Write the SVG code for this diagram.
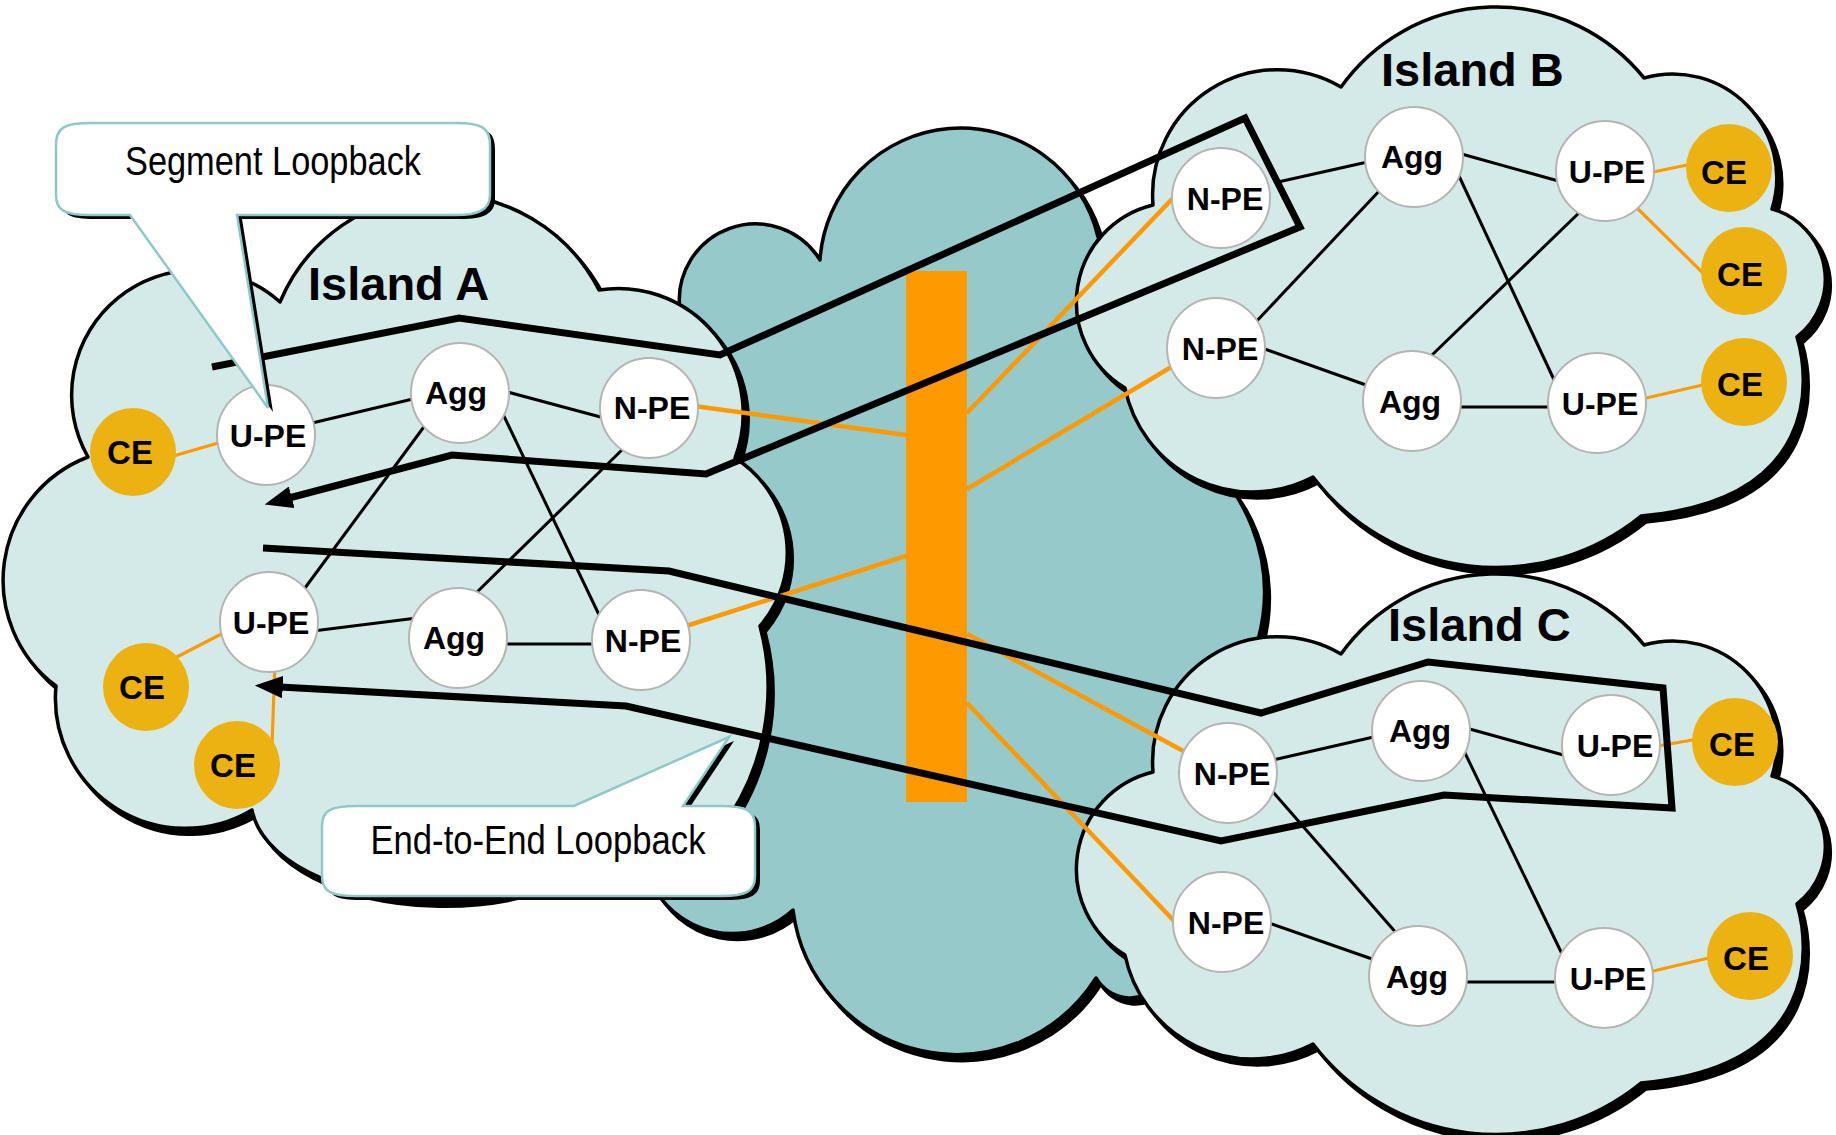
<svg xmlns="http://www.w3.org/2000/svg" width="1836" height="1135" viewBox="0 0 1836 1135">
<style>
.isl{fill:#D4EAE8;stroke:#000;stroke-width:3.5;stroke-linejoin:round}
.core{fill:#96C9CA;stroke:#000;stroke-width:3.5;stroke-linejoin:round}
.shd{fill:#000;stroke:#000;stroke-width:3.5;stroke-linejoin:round}
.lk{stroke:#000;stroke-width:3;fill:none}
.ol{stroke:#FF9900;stroke-width:4.5;fill:none}
.ol2{stroke:#FF9900;stroke-width:3.2;fill:none}
.nd{fill:#fff;stroke:#B4B4B4;stroke-width:2}
.ce{fill:#ECB212}
.lbl{font-family:"Liberation Sans",Arial,sans-serif;font-weight:bold;font-size:32px;text-anchor:middle;fill:#000}
.lblc{font-family:"Liberation Sans",Arial,sans-serif;font-weight:bold;font-size:33px;text-anchor:middle;fill:#000}
.isle{font-family:"Liberation Sans",Arial,sans-serif;font-weight:bold;font-size:47px;fill:#000}
.loop{stroke:#000;stroke-width:7;fill:none;stroke-linejoin:miter}
.co{fill:#fff;stroke:#8EC8C8;stroke-width:2.5}
.cot{font-family:"Liberation Sans",Arial,sans-serif;font-size:41px;text-anchor:middle;fill:#000}
</style>
<defs>
<path id="cloudCore" d="M 680,310 A 76,76 0 0 1 820,260 A 141,141 0 0 1 1098,237 A 130,130 0 0 1 1180,440 A 180,180 0 0 1 1258,640 L 1200,800 L 1160,985 A 40,40 0 0 1 1096,978 A 165,165 0 0 1 793,910 A 90,90 0 0 1 650,880 Z"/>
<path id="cloudA" d="M 88,457 A 125,125 0 0 1 280,302 A 176,176 0 0 1 599,290 A 125,125 0 0 1 735,458 A 112,112 0 0 1 760,626 A 236,236 0 0 1 720,830 L 623,821 A 188,100 0 0 1 252,810 A 130,130 0 0 1 56,686 A 132,132 0 0 1 88,457 Z"/>
<path id="cloudB" d="M 1153,205 A 125,125 0 0 1 1341,87 A 190,190 0 0 1 1644,78 A 104,104 0 0 1 1772,209 A 73,73 0 0 1 1797,337 C 1810,380 1820,500 1641,516 A 230,230 0 0 1 1313,477 A 130,130 0 0 1 1125,388 A 100,100 0 0 1 1153,205 Z"/>
<path id="callSeg" d="M 90,123 H 456 C 482,123 490,128 490,145 V 195 C 490,210 478,215 456,215 H 237 L 268,408 L 130,215 H 90 C 64,215 56,210 56,195 V 145 C 56,128 64,123 90,123 Z"/>
<path id="callE2E" d="M 356,806 H 574 L 729,737 L 683,806 H 721 C 747,806 755,811 755,826 V 876 C 755,891 747,896 721,896 H 356 C 330,896 322,891 322,876 V 826 C 322,811 330,806 356,806 Z"/>
<marker id="arrow" viewBox="0 0 10 8" refX="1" refY="4" markerWidth="4" markerHeight="3.2" markerUnits="strokeWidth" orient="auto">
<path d="M0,0 L10,4 L0,8 Z" fill="#000"/>
</marker>
</defs>

<g id="clouds">
<use href="#cloudCore" class="shd" transform="translate(5,6)"/>
<use href="#cloudCore" class="core"/>
<use href="#cloudB" class="shd" transform="translate(5,6)"/>
<use href="#cloudB" class="isl"/>
<use href="#cloudB" class="shd" transform="translate(5,573)"/>
<use href="#cloudB" class="isl" transform="translate(0,567)"/>
<use href="#cloudA" class="shd" transform="translate(5,6)"/>
<use href="#cloudA" class="isl"/>
</g>

<g id="core-bar">
<rect x="906" y="271" width="61" height="531" fill="#FF9900"/>
</g>

<g id="connectors">
<line class="ol2" x1="170" y1="457" x2="225" y2="441"/>
<line class="lk" x1="308" y1="424" x2="417" y2="398"/>
<line class="lk" x1="504" y1="391" x2="608" y2="419"/>
<line class="lk" x1="502" y1="412" x2="602" y2="621"/>
<line class="lk" x1="426" y1="424" x2="302" y2="592"/>
<line class="lk" x1="629" y1="443" x2="473" y2="596"/>
<line class="lk" x1="313" y1="631" x2="417" y2="618"/>
<line class="lk" x1="501" y1="644" x2="598" y2="644"/>
<line class="ol2" x1="173" y1="659" x2="229" y2="630"/>
<line class="ol2" x1="275" y1="662" x2="272" y2="746"/>
<line class="ol" x1="694" y1="406" x2="906" y2="435"/>
<line class="ol" x1="686" y1="626" x2="906" y2="556"/>
<line class="ol" x1="967" y1="413" x2="1175" y2="196"/>
<line class="ol" x1="967" y1="489" x2="1173" y2="366"/>
<line class="ol" x1="967" y1="634" x2="1187" y2="753"/>
<line class="ol" x1="967" y1="703" x2="1175" y2="922"/>
<line class="lk" x1="1278" y1="182" x2="1372" y2="161"/>
<line class="lk" x1="1458" y1="153" x2="1562" y2="182"/>
<line class="lk" x1="1459" y1="176" x2="1556" y2="384"/>
<line class="lk" x1="1382" y1="188" x2="1254" y2="324"/>
<line class="lk" x1="1583" y1="209" x2="1432" y2="355"/>
<line class="lk" x1="1262" y1="348" x2="1366" y2="385"/>
<line class="lk" x1="1456" y1="407" x2="1554" y2="407"/>
<line class="ol2" x1="1648" y1="173" x2="1692" y2="164"/>
<line class="ol2" x1="1634" y1="205" x2="1706" y2="276"/>
<line class="ol2" x1="1642" y1="399" x2="1707" y2="384"/>
<line class="lk" x1="1273" y1="760" x2="1378" y2="736"/>
<line class="lk" x1="1466" y1="728" x2="1567" y2="756"/>
<line class="lk" x1="1273" y1="792" x2="1398" y2="935"/>
<line class="lk" x1="1464" y1="751" x2="1563" y2="956"/>
<line class="lk" x1="1269" y1="923" x2="1375" y2="960"/>
<line class="lk" x1="1464" y1="982" x2="1560" y2="982"/>
<line class="ol2" x1="1658" y1="746" x2="1698" y2="739"/>
<line class="ol2" x1="1649" y1="972" x2="1713" y2="957"/>
</g>

<g id="island-labels">
<text class="isle" x="308" y="300">Island A</text>
<text class="isle" x="1381" y="86">Island B</text>
<text class="isle" x="1388" y="641">Island C</text>
</g>

<g id="nodes">
<g id="a-ce1"><ellipse class="ce" cx="133" cy="452" rx="43" ry="44"/><text class="lblc" x="130" y="464">CE</text></g>
<g id="a-upe1"><ellipse class="nd" cx="266" cy="435" rx="49" ry="50"/><text class="lbl" x="268" y="447">U-PE</text></g>
<g id="a-agg1"><ellipse class="nd" cx="460" cy="393" rx="49" ry="50"/><text class="lbl" x="456" y="404">Agg</text></g>
<g id="a-npe1"><ellipse class="nd" cx="649" cy="408" rx="49" ry="50"/><text class="lbl" x="652" y="419">N-PE</text></g>
<g id="a-upe2"><ellipse class="nd" cx="269" cy="622" rx="49" ry="50"/><text class="lbl" x="271" y="634">U-PE</text></g>
<g id="a-agg2"><ellipse class="nd" cx="458" cy="638" rx="49" ry="50"/><text class="lbl" x="454" y="649">Agg</text></g>
<g id="a-npe2"><ellipse class="nd" cx="641" cy="640" rx="49" ry="50"/><text class="lbl" x="643" y="652">N-PE</text></g>
<g id="a-ce2"><ellipse class="ce" cx="146" cy="687" rx="43" ry="44"/><text class="lblc" x="142" y="699">CE</text></g>
<g id="a-ce3"><ellipse class="ce" cx="237" cy="765" rx="43" ry="44"/><text class="lblc" x="233" y="777">CE</text></g>

<g id="b-npe1"><ellipse class="nd" cx="1221" cy="198" rx="49" ry="50"/><text class="lbl" x="1225" y="210">N-PE</text></g>
<g id="b-agg1"><ellipse class="nd" cx="1414" cy="157" rx="49" ry="50"/><text class="lbl" x="1412" y="168">Agg</text></g>
<g id="b-upe1"><ellipse class="nd" cx="1605" cy="171" rx="49" ry="50"/><text class="lbl" x="1607" y="183">U-PE</text></g>
<g id="b-ce1"><ellipse class="ce" cx="1729" cy="168" rx="43" ry="44"/><text class="lblc" x="1724" y="184">CE</text></g>
<g id="b-ce2"><ellipse class="ce" cx="1744" cy="271" rx="43" ry="44"/><text class="lblc" x="1740" y="286">CE</text></g>
<g id="b-npe2"><ellipse class="nd" cx="1216" cy="348" rx="49" ry="50"/><text class="lbl" x="1220" y="360">N-PE</text></g>
<g id="b-agg2"><ellipse class="nd" cx="1412" cy="401" rx="49" ry="50"/><text class="lbl" x="1410" y="413">Agg</text></g>
<g id="b-upe2"><ellipse class="nd" cx="1597" cy="403" rx="49" ry="50"/><text class="lbl" x="1600" y="415">U-PE</text></g>
<g id="b-ce3"><ellipse class="ce" cx="1744" cy="382" rx="43" ry="44"/><text class="lblc" x="1740" y="396">CE</text></g>

<g id="c-npe1"><ellipse class="nd" cx="1228" cy="773" rx="49" ry="50"/><text class="lbl" x="1232" y="785">N-PE</text></g>
<g id="c-agg1"><ellipse class="nd" cx="1421" cy="731" rx="49" ry="50"/><text class="lbl" x="1420" y="742">Agg</text></g>
<g id="c-upe1"><ellipse class="nd" cx="1611" cy="745" rx="49" ry="50"/><text class="lbl" x="1615" y="757">U-PE</text></g>
<g id="c-ce1"><ellipse class="ce" cx="1735" cy="742" rx="43" ry="44"/><text class="lblc" x="1732" y="756">CE</text></g>
<g id="c-npe2"><ellipse class="nd" cx="1222" cy="922" rx="49" ry="50"/><text class="lbl" x="1226" y="934">N-PE</text></g>
<g id="c-agg2"><ellipse class="nd" cx="1418" cy="976" rx="49" ry="50"/><text class="lbl" x="1417" y="988">Agg</text></g>
<g id="c-upe2"><ellipse class="nd" cx="1604" cy="978" rx="49" ry="50"/><text class="lbl" x="1608" y="990">U-PE</text></g>
<g id="c-ce2"><ellipse class="ce" cx="1750" cy="956" rx="43" ry="44"/><text class="lblc" x="1746" y="970">CE</text></g>
</g>

<g id="loopbacks">
<path class="loop" d="M 212,367 L 459,318 L 720,355 L 1245,118 L 1300,227 L 706,474 L 452,455 L 289,498" marker-end="url(#arrow)"/>
<path class="loop" d="M 263,548 L 669,571 L 1261,713 L 1428,662 L 1663,688 L 1672,808 L 1444,795 L 1221,841 L 626,706 L 280,687" marker-end="url(#arrow)"/>
</g>

<g id="callout-segment">
<use href="#callSeg" fill="#000" transform="translate(5,4)"/>
<use href="#callSeg" class="co"/>
<text class="cot" x="273" y="175" textLength="296" lengthAdjust="spacingAndGlyphs">Segment Loopback</text>
</g>
<g id="callout-e2e">
<use href="#callE2E" fill="#000" transform="translate(5,4)"/>
<use href="#callE2E" class="co"/>
<text class="cot" x="538" y="854" textLength="335" lengthAdjust="spacingAndGlyphs">End-to-End Loopback</text>
</g>
</svg>
